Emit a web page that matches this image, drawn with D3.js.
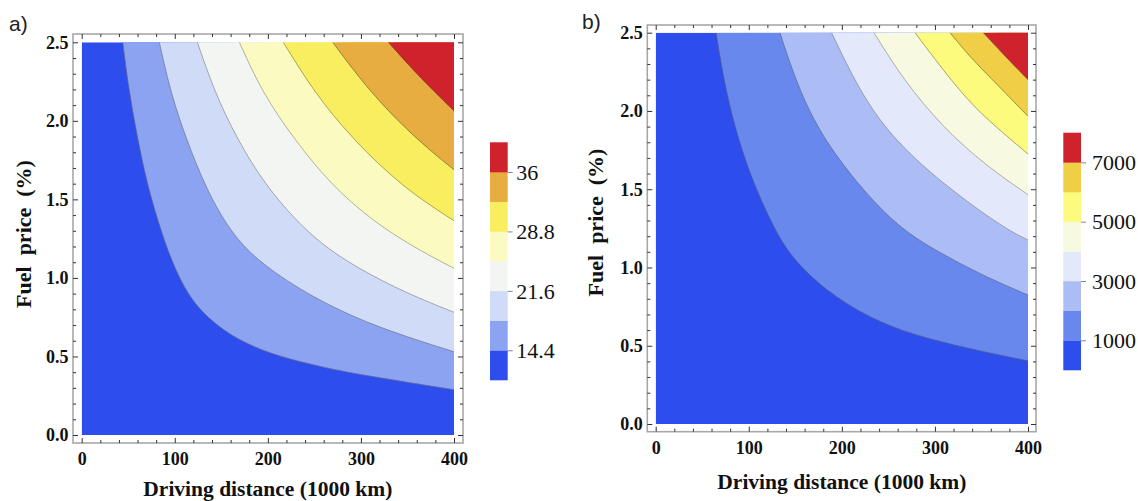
<!DOCTYPE html>
<html>
<head>
<meta charset="utf-8">
<script src="https://cdn.jsdelivr.net/npm/d3@7"></script>
<style>
  html, body { margin: 0; padding: 0; background: #fff; }
  svg { display: block; }
</style>
</head>
<body>
<svg id="chart" width="1138" height="501"></svg>
<script>
// ---------------- DATA ----------------
const distanceTicks = [0, 100, 200, 300, 400];        // Driving distance (1000 km)
const priceTicks = [0.0, 0.5, 1.0, 1.5, 2.0, 2.5];     // Fuel price (%)
const distanceDomain = [0, 400];
const priceDomain = [0, 2.5];

// Panel a) contour levels and colour-bar labels
const levelsA = [10.8, 14.4, 18, 21.6, 25.2, 28.8, 32.4, 36, 39.6];
const barLabelsA = [14.4, 21.6, 28.8, 36];
// Panel a) contour lines, [distance, price]
const contourA1 = [[44.1, 2.5], [50.5, 2.2], [60, 1.89], [70, 1.6], [86.5, 1.27], [102, 1.03], [118, 0.86], [136, 0.743], [159.5, 0.637], [184.5, 0.562], [213.2, 0.498], [256.2, 0.435], [300, 0.382], [400, 0.288]];
const contourA2 = [[83.4, 2.5], [96, 2.17], [112, 1.89], [134, 1.56], [163, 1.26], [198.8, 1.061], [256, 0.849], [320, 0.679], [400, 0.53]];
const contourA3 = [[124.3, 2.5], [143, 2.18], [166.5, 1.89], [198, 1.58], [246, 1.26], [296, 1.061], [350, 0.9], [400, 0.781]];
const contourA4 = [[169.4, 2.5], [194, 2.18], [227.4, 1.89], [272, 1.56], [333, 1.27], [400, 1.061]];
const contourA5 = [[216.6, 2.5], [250, 2.18], [290, 1.89], [345, 1.575], [400, 1.364]];
const contourA6 = [[269.7, 2.5], [310, 2.18], [358, 1.89], [400, 1.689]];
const contourA7 = [[329.5, 2.5], [365, 2.265], [400, 2.064]];

// Panel b) contour levels and colour-bar labels
const levelsB = [0, 1000, 2000, 3000, 4000, 5000, 6000, 7000, 8000];
const barLabelsB = [1000, 3000, 5000, 7000];
const contourB1 = [[64.8, 2.5], [73, 2.2], [85, 1.891], [102, 1.58], [126, 1.26], [146.1, 1.059], [183.7, 0.846], [230.2, 0.675], [276.8, 0.569], [334, 0.484], [400, 0.403]];
const contourB2 = [[133.5, 2.5], [150, 2.2], [173, 1.891], [210, 1.58], [259, 1.26], [303, 1.101], [350, 0.952], [400, 0.824]];
const contourB3 = [[189, 2.5], [213, 2.2], [244.5, 1.891], [298, 1.58], [373.5, 1.252], [400, 1.176]];
const contourB4 = [[234.5, 2.5], [266, 2.2], [309, 1.891], [355, 1.65], [400, 1.465]];
const contourB5 = [[278.6, 2.5], [328.8, 2.104], [362, 1.915], [400, 1.725]];
const contourB6 = [[316.2, 2.5], [340, 2.33], [360, 2.211], [400, 1.966]];
const contourB7 = [[352, 2.5], [377, 2.34], [400, 2.2]];

// ---------------- STYLE ----------------
const coloursA = ["#2d4eec", "#8ca3f1", "#d0dcf7", "#f3f5f2", "#fbfbc1", "#f9ee5f", "#e7ad40", "#d0222c"];
const coloursB = ["#2d4eec", "#6888ee", "#acbdf5", "#e3e9fa", "#f8f9e1", "#fdfb7d", "#f0cf46", "#d0222c"];
const lineColoursA = ["#5a6690", "#6f7890", "#8a8f96", "#9a9a80", "#8d8a40", "#7a6a30", "#7a3a2a"];
const lineColoursB = ["#4a5a90", "#5f6c95", "#85899a", "#95958a", "#8a8a50", "#7d7035", "#7a4030"];

const svg = d3.select("#chart");
const serif = "'Liberation Serif', 'Times New Roman', serif";
const sans = "'Liberation Sans', Arial, sans-serif";

function drawPanel(cfg) {
  const g = svg.append("g");
  const x = d3.scaleLinear().domain(distanceDomain).range(cfg.xr);
  const y = d3.scaleLinear().domain(priceDomain).range(cfg.yr);
  const f = cfg.frame;

  const clipId = "clip" + cfg.id;
  svg.append("clipPath").attr("id", clipId)
    .append("rect")
    .attr("x", x(0)).attr("y", y(2.5))
    .attr("width", x(400) - x(0)).attr("height", y(0) - y(2.5));

  const plot = g.append("g").attr("clip-path", `url(#${clipId})`);
  plot.append("rect")
    .attr("x", x(0)).attr("y", y(2.5))
    .attr("width", x(400) - x(0)).attr("height", y(0) - y(2.5))
    .attr("fill", cfg.colours[0]);

  const line = d3.line().x(d => x(d[0])).y(d => y(d[1])).curve(d3.curveBasis);
  cfg.contours.forEach((c, i) => {
    const d = line(c) + `L${x(400) + 2},${y(2.5) - 2}Z`;
    plot.append("path").attr("d", d).attr("fill", cfg.colours[i + 1]);
  });
  cfg.contours.forEach((c, i) => {
    plot.append("path").attr("d", line(c))
      .attr("fill", "none").attr("stroke", cfg.lineColours[i])
      .attr("stroke-width", 1).attr("stroke-opacity", 0.75);
  });

  // frame
  g.append("rect")
    .attr("x", f.l).attr("y", f.t).attr("width", f.r - f.l).attr("height", f.b - f.t)
    .attr("fill", "none").attr("stroke", "#a8a8a8").attr("stroke-width", 1.6);

  const minorX = d3.range(0, 401, 20).filter(v => v % 100 !== 0);
  const minorY = d3.range(0, 26, 1).map(v => v / 10).filter(v => Math.round(v * 10) % 5 !== 0);

  function styleAxis(sel, labels) {
    sel.select(".domain").remove();
    sel.selectAll(".tick line").attr("stroke", "#333").attr("stroke-width", 1);
    if (!labels) sel.selectAll(".tick text").remove();
  }

  const bottom = g.append("g").attr("transform", `translate(0,${f.b})`)
    .call(d3.axisBottom(x).tickValues(distanceTicks).tickSize(-5).tickFormat(d3.format("d")));
  styleAxis(bottom, true);
  bottom.selectAll(".tick text").attr("y", 22).attr("dy", 0)
    .attr("font-family", serif).attr("font-weight", "bold").attr("font-size", 18).attr("fill", "#111");
  g.append("g").attr("transform", `translate(0,${f.b})`)
    .call(d3.axisBottom(x).tickValues(minorX).tickSize(-3)).call(s => styleAxis(s, false));

  g.append("g").attr("transform", `translate(0,${f.t})`)
    .call(d3.axisTop(x).tickValues(distanceTicks).tickSize(-5)).call(s => styleAxis(s, false));
  g.append("g").attr("transform", `translate(0,${f.t})`)
    .call(d3.axisTop(x).tickValues(minorX).tickSize(-3)).call(s => styleAxis(s, false));

  const left = g.append("g").attr("transform", `translate(${f.l},0)`)
    .call(d3.axisLeft(y).tickValues(priceTicks).tickSize(-5).tickPadding(4.5).tickFormat(d3.format(".1f")));
  styleAxis(left, true);
  left.selectAll(".tick text").attr("font-family", serif).attr("font-weight", "bold")
    .attr("font-size", 18).attr("fill", "#111").attr("dy", "0.33em");
  g.append("g").attr("transform", `translate(${f.l},0)`)
    .call(d3.axisLeft(y).tickValues(minorY).tickSize(-3)).call(s => styleAxis(s, false));

  g.append("g").attr("transform", `translate(${f.r},0)`)
    .call(d3.axisRight(y).tickValues(priceTicks).tickSize(-5)).call(s => styleAxis(s, false));
  g.append("g").attr("transform", `translate(${f.r},0)`)
    .call(d3.axisRight(y).tickValues(minorY).tickSize(-3)).call(s => styleAxis(s, false));

  // axis titles
  g.append("text")
    .attr("x", (x(0) + x(400)) / 2).attr("y", cfg.xTitleY)
    .attr("text-anchor", "middle")
    .attr("font-family", serif).attr("font-weight", "bold").attr("font-size", 21.5).attr("fill", "#111")
    .text("Driving distance (1000 km)");
  g.append("text")
    .attr("transform", `translate(${cfg.yTitleX},${cfg.yTitleY}) rotate(-90)`)
    .attr("text-anchor", "middle")
    .attr("font-family", serif).attr("font-weight", "bold").attr("font-size", 22).attr("fill", "#111")
    .style("white-space", "pre")
    .text("Fuel  price  (%)");

  // panel label
  g.append("text").attr("x", cfg.labelX).attr("y", cfg.labelY)
    .attr("font-family", sans).attr("font-size", 21).attr("fill", "#222")
    .text(cfg.label);

  // colour bar
  const lv = cfg.levels;
  const cb = d3.scaleLinear().domain([lv[0], lv[lv.length - 1]]).range(cfg.barY);
  const bar = g.append("g");
  d3.range(lv.length - 1).forEach(i => {
    bar.append("rect")
      .attr("x", cfg.barX).attr("width", cfg.barW)
      .attr("y", cb(lv[i + 1])).attr("height", cb(lv[i]) - cb(lv[i + 1]) + 0.3)
      .attr("fill", cfg.colours[i]);
  });
  const barAxis = g.append("g").attr("transform", `translate(${cfg.barX + cfg.barW},0)`)
    .call(d3.axisRight(cb).tickValues(cfg.barLabels).tickSize(5).tickPadding(cfg.barPad).tickFormat(d => String(d)));
  barAxis.select(".domain").remove();
  barAxis.selectAll(".tick line").attr("stroke", "#888");
  barAxis.selectAll(".tick text").attr("font-family", serif).attr("font-size", 22)
    .attr("fill", "#111").attr("dy", "0.33em");
}

drawPanel({
  id: "a", label: "a)", labelX: 9, labelY: 31,
  frame: { l: 73, t: 34, r: 463, b: 443 },
  xr: [81.7, 454], yr: [435, 42.3],
  xTitleY: 496, yTitleX: 31, yTitleY: 234,
  contours: [contourA1, contourA2, contourA3, contourA4, contourA5, contourA6, contourA7],
  colours: coloursA, lineColours: lineColoursA,
  levels: levelsA, barLabels: barLabelsA,
  barX: 490, barW: 17.7, barY: [380, 142.3], barPad: 3.5
});

drawPanel({
  id: "b", label: "b)", labelX: 582, labelY: 29,
  frame: { l: 647.3, t: 25, r: 1036, b: 431.7 },
  xr: [655.7, 1028], yr: [424, 32.7],
  xTitleY: 488.5, yTitleX: 603, yTitleY: 222.5,
  contours: [contourB1, contourB2, contourB3, contourB4, contourB5, contourB6, contourB7],
  colours: coloursB, lineColours: lineColoursB,
  levels: levelsB, barLabels: barLabelsB,
  barX: 1063.3, barW: 17.7, barY: [370, 132.7], barPad: 6
});
</script>
</body>
</html>
